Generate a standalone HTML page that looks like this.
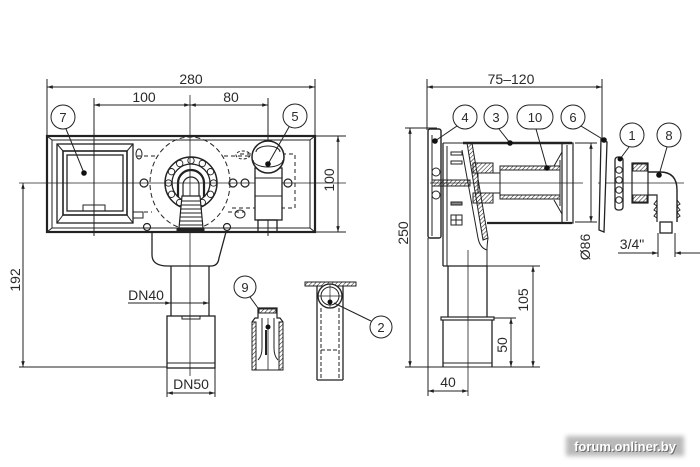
<!DOCTYPE html>
<html><head><meta charset="utf-8"><style>
html,body{margin:0;padding:0;background:#fff;}
svg{display:block;}
text{font-family:"Liberation Sans",sans-serif;fill:#2a2a2a;stroke:none;}
</style></head><body>
<svg width="700" height="467" viewBox="0 0 700 467" xmlns="http://www.w3.org/2000/svg">
<defs>
<marker id="a" viewBox="0 0 10 6" refX="10" refY="3" markerWidth="8" markerHeight="3.5" orient="auto-start-reverse" markerUnits="userSpaceOnUse"><path d="M0,0L10,3L0,6z" fill="#222"/></marker>
<pattern id="h" width="3" height="3" patternUnits="userSpaceOnUse" patternTransform="rotate(45)"><line x1="0" y1="0" x2="0" y2="3" stroke="#222" stroke-width="1.1"/></pattern>
<filter id="b" x="-20%" y="-50%" width="140%" height="200%"><feGaussianBlur stdDeviation="2.5"/></filter>
</defs>
<rect width="700" height="467" fill="#fff"/>
<g fill="none" stroke="#222" stroke-width="1">

<!-- ===== LEFT VIEW dimensions ===== -->
<line x1="47" y1="79" x2="47" y2="136"/>
<line x1="315" y1="79" x2="315" y2="136"/>
<line x1="47" y1="87" x2="315" y2="87" marker-start="url(#a)" marker-end="url(#a)"/>
<line x1="94" y1="98" x2="94" y2="236"/>
<line x1="268" y1="98" x2="268" y2="236"/>
<line x1="94" y1="105" x2="190" y2="105" marker-start="url(#a)" marker-end="url(#a)"/>
<line x1="190" y1="105" x2="268" y2="105" marker-start="url(#a)" marker-end="url(#a)"/>
<line x1="190" y1="95" x2="190" y2="376" stroke-width="0.8"/>
<line x1="19" y1="183" x2="346" y2="183" stroke-width="0.8"/>
<line x1="23" y1="183" x2="23" y2="367" marker-start="url(#a)" marker-end="url(#a)"/>
<line x1="19" y1="367" x2="167" y2="367"/>
<line x1="315" y1="136" x2="346" y2="136"/>
<line x1="315" y1="232" x2="346" y2="232"/>
<line x1="338" y1="136" x2="338" y2="232" marker-start="url(#a)" marker-end="url(#a)"/>

<!-- plate -->
<rect x="47" y="136" width="268" height="96" stroke-width="2.2"/>
<rect x="52" y="140" width="258" height="88"/>
<line x1="47" y1="136" x2="52" y2="140"/><line x1="315" y1="136" x2="310" y2="140"/>
<line x1="47" y1="232" x2="52" y2="228"/><line x1="315" y1="232" x2="310" y2="228"/>

<!-- box 7 -->
<rect x="57" y="144" width="76" height="79" stroke-width="1.3"/>
<rect x="63" y="151" width="64" height="64" stroke-width="1.6"/>
<rect x="67" y="155" width="56" height="56" stroke-width="1.3"/>
<line x1="57" y1="144" x2="63" y2="151"/><line x1="133" y1="144" x2="127" y2="151"/>
<line x1="57" y1="223" x2="63" y2="215"/><line x1="133" y1="223" x2="127" y2="215"/>
<rect x="83" y="205" width="22" height="6"/>
<rect x="133" y="212" width="10" height="6"/>

<!-- dashed outline round -->
<ellipse cx="190" cy="183" rx="40" ry="46" stroke-dasharray="5,3"/>
<path d="M137,156 H156 M224,156 H252 M137,212 H152 M228,212 H244" stroke-dasharray="4,3"/>
<ellipse cx="139" cy="154" rx="3" ry="5"/>
<ellipse cx="243" cy="155" rx="7" ry="4" stroke-dasharray="3,2"/>
<ellipse cx="240" cy="214" rx="5" ry="4"/>

<!-- bead ring -->
<circle cx="191" cy="183" r="26" stroke-width="1.5"/>
<circle cx="191" cy="183" r="19" stroke-width="1.3"/>
<g stroke-width="0.9">
<circle cx="213.5" cy="183" r="3.2"/><circle cx="210.5" cy="194.3" r="3.2"/><circle cx="202.3" cy="202.5" r="3.2"/>
<circle cx="179.7" cy="202.5" r="3.2"/><circle cx="171.5" cy="194.3" r="3.2"/><circle cx="168.5" cy="183" r="3.2"/>
<circle cx="171.5" cy="171.7" r="3.2"/><circle cx="179.7" cy="163.5" r="3.2"/><circle cx="191" cy="160.5" r="3.2"/>
<circle cx="202.3" cy="163.5" r="3.2"/><circle cx="210.5" cy="171.7" r="3.2"/>
</g>
<path d="M178,197 V183 A13,13 0 0 1 204,183 V197" stroke-width="2.2"/>
<path d="M183,197 V185 A8,8 0 0 1 199,185 V197" stroke-width="1.2"/>
<!-- barb -->
<path d="M182,196 H200 L203,228 H179 Z" fill="#fff" stroke-width="1.2"/>
<path d="M181,201 H201 M181,205 H201 M180,209 H202 M180,213 H202 M180,217 H202 M179,221 H203 M179,225 H203"/>
<rect x="177" y="228" width="27" height="4" fill="#222"/>

<!-- screws -->
<g stroke-width="1.2">
<circle cx="144" cy="183" r="4"/><circle cx="233" cy="183" r="4"/><circle cx="245" cy="183" r="4"/><circle cx="288" cy="183" r="4"/>
<circle cx="147" cy="227" r="3.5"/><circle cx="227" cy="227" r="3.5"/>
</g>

<!-- part 5 -->
<path d="M240,154 H295 V208 H230" stroke-dasharray="4,3"/>
<rect x="255" y="168" width="27" height="52" fill="#fff" stroke-width="1.3"/>
<line x1="255" y1="178" x2="282" y2="178"/><line x1="255" y1="196" x2="282" y2="196"/>
<circle cx="268" cy="157" r="16" fill="#fff" stroke-width="1.5"/>
<path d="M253,160 A15,7 0 0 0 283,160"/><path d="M256,152 A12,6 0 0 1 280,152"/>
<rect x="258" y="220" width="19" height="12" stroke-width="1.3"/>

<!-- labels left -->
<circle cx="63" cy="117" r="12"/>
<line x1="66" y1="129" x2="84" y2="173"/>
<circle cx="295" cy="116" r="12"/>
<line x1="289" y1="127" x2="268" y2="164"/>

<!-- siphon body -->
<path d="M152,232 V255 Q152,266 168,266 H211 Q218,266 219,258 L226,232" stroke-width="1.3"/>
<line x1="171" y1="266" x2="171" y2="316" stroke-width="1.3"/>
<line x1="209" y1="266" x2="209" y2="316" stroke-width="1.3"/>
<rect x="167" y="316" width="48" height="52" stroke-width="1.3"/>
<line x1="167" y1="363" x2="215" y2="363"/>
<rect x="182" y="316" width="18" height="3"/>
<line x1="128" y1="303" x2="171" y2="303" marker-end="url(#a)"/>
<line x1="171" y1="303" x2="209" y2="303" marker-end="url(#a)"/>
<line x1="167" y1="368" x2="167" y2="397"/>
<line x1="215" y1="368" x2="215" y2="397"/>
<line x1="167" y1="393" x2="215" y2="393" marker-start="url(#a)" marker-end="url(#a)"/>

<!-- part 9 -->
<circle cx="245" cy="287" r="11"/>
<line x1="250" y1="297" x2="258" y2="308"/>
<rect x="252" y="322" width="4" height="48" fill="url(#h)"/>
<rect x="279" y="322" width="4" height="48" fill="url(#h)"/>
<path d="M252,322 L255,318 H258 V308 H277 V318 H280 L283,322" stroke-width="1.2"/>
<rect x="259" y="309" width="17" height="4" fill="url(#h)"/>
<line x1="252" y1="370" x2="283" y2="370"/>
<path d="M262,318 V348 Q262,356 258,360 M274,318 V348 Q274,356 278,360"/>
<line x1="268" y1="318" x2="268" y2="370" stroke-width="0.8"/>
<line x1="266" y1="330" x2="266" y2="355" stroke-width="2"/>

<!-- part 2 -->
<rect x="305" y="282" width="51" height="4" fill="url(#h)"/>
<line x1="317" y1="286" x2="317" y2="380" stroke-width="1.3"/>
<line x1="343" y1="286" x2="343" y2="380" stroke-width="1.3"/>
<line x1="317" y1="380" x2="343" y2="380" stroke-width="1.3"/>
<circle cx="330" cy="296" r="12" fill="#fff" stroke-width="1.3"/>
<circle cx="330" cy="296" r="9"/>
<line x1="330" y1="284" x2="330" y2="308" stroke-width="0.7"/>
<line x1="318" y1="296" x2="342" y2="296" stroke-width="0.7"/>
<path d="M321,308 V378 M339,308 V378 M321,350 H339" stroke-dasharray="4,2"/>
<line x1="334" y1="303" x2="371" y2="321"/>
<circle cx="381" cy="327" r="11"/>

<!-- ===== RIGHT VIEW ===== -->
<line x1="427" y1="79" x2="427" y2="130"/>
<line x1="602" y1="79" x2="602" y2="138"/>
<line x1="427" y1="87" x2="602" y2="87" marker-start="url(#a)" marker-end="url(#a)"/>
<line x1="405" y1="128" x2="437" y2="128"/>
<line x1="410" y1="128" x2="410" y2="367" marker-start="url(#a)" marker-end="url(#a)"/>
<line x1="405" y1="367" x2="540" y2="367"/>
<line x1="428" y1="238" x2="428" y2="396"/>
<line x1="428" y1="391" x2="468" y2="391" marker-start="url(#a)" marker-end="url(#a)"/>
<line x1="468" y1="250" x2="468" y2="396" stroke-width="0.8"/>
<line x1="430" y1="183" x2="583" y2="183" stroke-width="0.8"/>
<line x1="598" y1="183" x2="684" y2="183" stroke-width="0.8"/>

<!-- part 4 plate -->
<rect x="428" y="129" width="13" height="109" rx="2" stroke-width="1.4"/>
<line x1="432" y1="135" x2="432" y2="236"/>
<circle cx="436" cy="172" r="4"/><circle cx="436" cy="195" r="4"/>

<!-- housing -->
<line x1="443" y1="143" x2="443" y2="266" stroke-width="1.3"/>
<line x1="447" y1="146" x2="447" y2="266"/>
<line x1="443" y1="143" x2="468" y2="143"/>
<polygon points="467,143 472,143 488,238 483,240" fill="url(#h)"/>
<path d="M462,150 L478,238 Q480,248 487,250" />
<path d="M488,238 Q487,245 487,250 V266"/>
<line x1="443" y1="266" x2="487" y2="266" stroke-width="1.3"/>
<rect x="451" y="152" width="11" height="3"/>
<rect x="451" y="161" width="11" height="3"/>
<rect x="451" y="202" width="11" height="3" fill="#888"/>
<rect x="451" y="215" width="11" height="10"/>
<line x1="451" y1="220" x2="462" y2="220"/><line x1="456" y1="215" x2="456" y2="225"/>

<!-- screw -->
<rect x="432" y="180" width="38" height="6" fill="url(#h)"/>

<!-- part 3 cylinder -->
<line x1="463" y1="143" x2="572" y2="143" stroke-width="2.6"/>
<line x1="487" y1="223" x2="572" y2="223" stroke-width="2.2"/>
<rect x="562" y="143" width="11" height="80" stroke-width="1.2"/>
<line x1="567" y1="145" x2="567" y2="221"/>
<path d="M562,152 L554,166 M562,214 L554,200"/>

<!-- part 10 -->
<rect x="473" y="163" width="20" height="10" fill="url(#h)"/>
<rect x="473" y="193" width="20" height="10" fill="url(#h)"/>
<rect x="478" y="173" width="22" height="20"/>
<rect x="500" y="166" width="60" height="4" fill="url(#h)"/>
<rect x="500" y="195" width="60" height="4" fill="url(#h)"/>
<line x1="500" y1="170" x2="500" y2="195"/>
<line x1="560" y1="160" x2="560" y2="206"/>

<!-- part 6 -->
<polygon points="601,139 607,142 604,232 599,230" fill="#fff" stroke-width="1.3"/>

<!-- Ø86 -->
<line x1="575" y1="143" x2="597" y2="143"/>
<line x1="575" y1="222" x2="597" y2="222"/>
<line x1="591" y1="143" x2="591" y2="222" marker-start="url(#a)" marker-end="url(#a)"/>

<!-- part 1 -->
<rect x="615" y="157" width="8" height="53" rx="3" stroke-width="1.3"/>
<circle cx="619" cy="170" r="3.3"/><circle cx="619" cy="180" r="3.3"/><circle cx="619" cy="190" r="3.3"/><circle cx="619" cy="200" r="3.3"/>

<!-- part 8 -->
<rect x="632" y="163" width="16" height="40" stroke-width="1.2"/>
<rect x="633" y="164" width="14" height="7" fill="url(#h)"/>
<rect x="633" y="195" width="14" height="7" fill="url(#h)"/>
<path d="M648,172 H660 Q677,172 677,190 V222" stroke-width="1.4"/>
<path d="M648,195 H657 V222" stroke-width="1.2"/>
<path d="M657,200 l-3,4 l3,2 l-3,4 l3,2 l-3,4 l3,2 M677,200 l3,4 l-3,2 l3,4 l-3,2 l3,4 l-3,2"/>
<rect x="660" y="222" width="12" height="11" stroke-width="1.3"/>
<line x1="658" y1="233" x2="658" y2="257"/>
<line x1="675" y1="233" x2="675" y2="257"/>
<line x1="618" y1="253" x2="658" y2="253" marker-end="url(#a)"/>
<line x1="700" y1="253" x2="675" y2="253" marker-end="url(#a)"/>

<!-- lower pipe right view -->
<line x1="448" y1="266" x2="448" y2="317" stroke-width="1.3"/>
<line x1="487" y1="266" x2="487" y2="317" stroke-width="1.3"/>
<rect x="441" y="317" width="53" height="3" stroke-width="1.2"/>
<line x1="443" y1="320" x2="443" y2="367" stroke-width="1.3"/>
<line x1="492" y1="320" x2="492" y2="367" stroke-width="1.3"/>
<line x1="443" y1="363" x2="492" y2="363"/>
<line x1="487" y1="266" x2="540" y2="266"/>
<line x1="533" y1="266" x2="533" y2="367" marker-start="url(#a)" marker-end="url(#a)"/>
<line x1="494" y1="318" x2="516" y2="318"/>
<line x1="511" y1="318" x2="511" y2="367" marker-start="url(#a)" marker-end="url(#a)"/>

<!-- labels right -->
<circle cx="465" cy="117" r="12"/>
<circle cx="496" cy="117" r="12"/>
<rect x="517" y="105" width="36" height="24" rx="12"/>
<circle cx="573" cy="117" r="12"/>
<circle cx="632" cy="135" r="12"/>
<circle cx="669" cy="135" r="12"/>
<line x1="457" y1="126" x2="435" y2="141"/>
<line x1="499" y1="129" x2="510" y2="143"/>
<line x1="536" y1="129" x2="547" y2="168"/>
<line x1="581" y1="126" x2="604" y2="140"/>
<line x1="629" y1="147" x2="620" y2="159"/>
<line x1="667" y1="147" x2="659" y2="175"/>
</g>

<!-- dots -->
<g fill="#111">
<circle cx="84" cy="173" r="2.8"/>
<circle cx="268" cy="164" r="2.8"/>
<circle cx="268" cy="327" r="2.5"/>
<circle cx="330" cy="302" r="2.5"/>
<circle cx="435" cy="141" r="2.8"/>
<circle cx="510" cy="143" r="2.8"/>
<circle cx="547" cy="168" r="2.8"/>
<circle cx="604" cy="140" r="2.8"/>
<circle cx="620" cy="159" r="2.5"/>
<circle cx="659" cy="175" r="2.8"/>
</g>

<!-- texts -->
<g font-size="14" text-anchor="middle">
<text x="191" y="84">280</text>
<text x="144" y="102">100</text>
<text x="231" y="102">80</text>
<text transform="translate(15,280) rotate(-90)" y="5">192</text>
<text transform="translate(329,180) rotate(-90)" y="5">100</text>
<text x="146" y="300">DN40</text>
<text x="191" y="389">DN50</text>
<text x="511" y="84">75–120</text>
<text transform="translate(403,233) rotate(-90)" y="5">250</text>
<text transform="translate(585,247) rotate(-90)" y="5">Ø86</text>
<text x="632" y="249">3/4"</text>
<text transform="translate(523,300) rotate(-90)" y="5">105</text>
<text transform="translate(502,345) rotate(-90)" y="5">50</text>
<text x="448" y="387">40</text>
</g>
<g font-size="13" text-anchor="middle">
<text x="63" y="122">7</text>
<text x="295" y="121">5</text>
<text x="245" y="292">9</text>
<text x="381" y="332">2</text>
<text x="465" y="122">4</text>
<text x="496" y="122">3</text>
<text x="535" y="122">10</text>
<text x="573" y="122">6</text>
<text x="632" y="140">1</text>
<text x="669" y="140">8</text>
</g>

<!-- watermark -->
<rect x="566" y="436" width="118" height="20" fill="#a8a8a8" opacity="0.8" filter="url(#b)"/>
<text x="626" y="452" font-size="13" font-weight="bold" text-anchor="middle" style="fill:#6e6e6e">forum.onliner.by</text>
<text x="625" y="451" font-size="13" font-weight="bold" text-anchor="middle" style="fill:#ffffff">forum.onliner.by</text>
</svg>
</body></html>
